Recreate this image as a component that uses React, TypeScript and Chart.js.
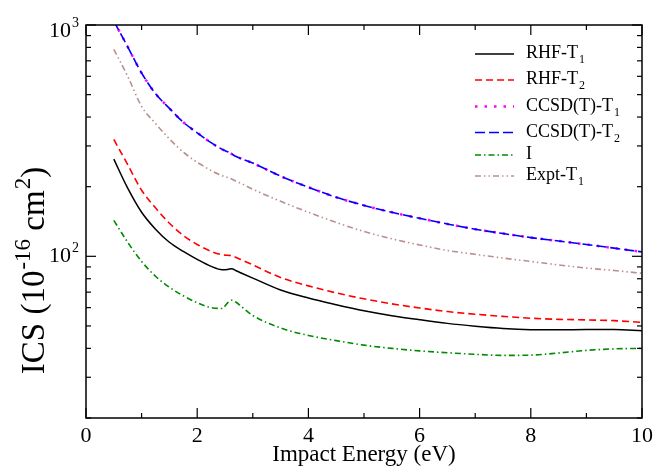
import React, { useEffect, useRef } from 'react';
import { Chart, registerables } from 'chart.js';
Chart.register(...registerables);

const energies = [0.5, 0.75, 1.0, 1.25, 1.5, 1.75, 2.0, 2.25, 2.45, 2.55, 2.62, 2.7, 2.8, 3.0, 3.5, 4, 4.5, 5, 5.5, 6, 6.5, 7, 7.5, 8, 8.5, 9, 9.5, 10];
const rhfT1 = [263, 197, 155, 131, 115, 105, 97, 90.5, 87.5, 87.8, 88.4, 86.6, 84.5, 80.5, 71.5, 66, 61.8, 58.2, 55.4, 53.2, 51.3, 49.9, 48.8, 48.2, 48.1, 48.3, 48.3, 47.7];
const rhfT2 = [320, 249, 193, 162, 139, 123, 112.5, 105, 101.5, 101, 100.8, 98.8, 96.5, 91.8, 81, 74.5, 69.5, 65.5, 62.3, 59.8, 57.7, 56.2, 55, 54, 53.4, 53.1, 52.7, 51.8];
const ccsdT1 = [1040, 805, 620, 505, 436, 380, 342, 310, 290, 283, 277, 270, 264, 253, 222, 199, 180, 166, 155, 146, 138, 131, 125.5, 120.5, 116.5, 112.5, 108.5, 104.5];
const ccsdT2 = [1040, 805, 620, 505, 436, 380, 342, 310, 290, 283, 277, 270, 264, 253, 222, 199, 180, 166, 155, 146, 138, 131, 125.5, 120.5, 116.5, 112.5, 108.5, 104.5];
const seriesI = [143, 115, 95, 82, 73.5, 67.5, 63, 60, 59.5, 63, 64.6, 63.3, 60.5, 55.5, 49, 45.5, 43.2, 41.3, 40, 39, 38.3, 37.7, 37.3, 37.4, 38.2, 39.2, 39.8, 40];
const exptT1 = [785, 600, 445, 375, 322, 282, 255, 235, 223, 219, 216, 211, 206, 195, 173, 155, 140, 128, 119, 112, 106, 102, 98.3, 95, 91.8, 89, 86.8, 84.5];

const xMajorTicks = [0, 2, 4, 6, 8, 10];
const xMinorTicks = [1, 3, 5, 7, 9];
const yMajorTicks = [100, 1000];
const yMinorTicks = [20, 30, 40, 50, 60, 70, 80, 90, 200, 300, 400, 500, 600, 700, 800, 900];
const yTickBase = ['10', '10'];
const yTickExp = ['2', '3'];

const legendNames = ['RHF-T', 'RHF-T', 'CCSD(T)-T', 'CCSD(T)-T', 'I', 'Expt-T'];
const legendSubs = ['1', '2', '1', '2', '', '1'];

const FONT = '"Liberation Serif", "Times New Roman", serif';

const seriesStyles = [
  { color: '#000000', dash: [] as number[], width: 1.5 },
  { color: '#ff0000', dash: [7, 4], width: 1.6 },
  { color: '#ff00ff', dash: [2.5, 7], width: 2.5 },
  { color: '#0000ff', dash: [10, 4], width: 1.6 },
  { color: '#008b00', dash: [6, 3, 1.5, 3], width: 1.6 },
  { color: '#bc8f8f', dash: [6, 3, 1.5, 3, 1.5, 3], width: 1.6 },
];

const seriesData = [rhfT1, rhfT2, ccsdT1, ccsdT2, seriesI, exptT1];

function drawSup(ctx: CanvasRenderingContext2D, x: number, y: number, base: string, sup: string, size: number, supMode: 'sup' | 'sub', align: 'left' | 'right') {
  ctx.font = `${size}px ${FONT}`;
  const wb = ctx.measureText(base).width;
  const supSize = Math.round(size * 0.65);
  ctx.font = `${supSize}px ${FONT}`;
  const ws = ctx.measureText(sup).width;
  const x0 = align === 'left' ? x : x - wb - ws;
  ctx.textAlign = 'left';
  ctx.textBaseline = 'alphabetic';
  ctx.font = `${size}px ${FONT}`;
  ctx.fillText(base, x0, y);
  ctx.font = `${supSize}px ${FONT}`;
  const dy = supMode === 'sup' ? -size * 0.45 : size * 0.3;
  ctx.fillText(sup, x0 + wb + 1, y + dy);
}

const framePlugin = {
  id: 'framePlugin',
  afterDraw(chart: any) {
    const ctx: CanvasRenderingContext2D = chart.ctx;
    const { left, top, right, bottom } = chart.chartArea;
    const xs = chart.scales.x;
    const ys = chart.scales.y;
    ctx.save();
    ctx.strokeStyle = '#000';
    ctx.fillStyle = '#000';
    ctx.lineWidth = 1.5;
    ctx.strokeRect(left, top, right - left, bottom - top);
    ctx.lineWidth = 1.2;
    const tick = (x1: number, y1: number, x2: number, y2: number) => {
      ctx.beginPath(); ctx.moveTo(x1, y1); ctx.lineTo(x2, y2); ctx.stroke();
    };
    xMajorTicks.forEach((v) => { const p = xs.getPixelForValue(v); tick(p, bottom, p, bottom - 10); tick(p, top, p, top + 10); });
    xMinorTicks.forEach((v) => { const p = xs.getPixelForValue(v); tick(p, bottom, p, bottom - 5); tick(p, top, p, top + 5); });
    yMajorTicks.forEach((v) => { const p = ys.getPixelForValue(v); tick(left, p, left + 10, p); tick(right, p, right - 10, p); });
    yMinorTicks.forEach((v) => { const p = ys.getPixelForValue(v); tick(left, p, left + 5, p); tick(right, p, right - 5, p); });

    // x tick labels
    ctx.font = `22px ${FONT}`;
    ctx.textAlign = 'center';
    ctx.textBaseline = 'alphabetic';
    xMajorTicks.forEach((v) => { ctx.fillText(String(v), xs.getPixelForValue(v), bottom + 24); });

    // y tick labels
    const yDy = [6, 12];
    yMajorTicks.forEach((v, i) => {
      const p = ys.getPixelForValue(v);
      drawSup(ctx, left - 8, p + yDy[i], yTickBase[i], yTickExp[i], 22, 'sup', 'right');
    });

    // x title
    ctx.font = `23px ${FONT}`;
    ctx.textAlign = 'center';
    ctx.fillText('Impact Energy (eV)', (left + right) / 2, bottom + 43);

    // y title (rotated)
    ctx.save();
    ctx.translate(left - 42, (top + bottom) / 2 + 49);
    ctx.rotate(-Math.PI / 2);
    const parts: [string, 'n' | 's'][] = [['ICS (10', 'n'], ['-16', 's'], [' cm', 'n'], ['2', 's'], [')', 'n']];
    const big = 33, small = 23;
    let total = 0;
    parts.forEach(([t, m]) => { ctx.font = `${m === 'n' ? big : small}px ${FONT}`; total += ctx.measureText(t).width + (m === 's' ? 1 : 0); });
    let cx = -total / 2;
    ctx.textAlign = 'left';
    parts.forEach(([t, m]) => {
      ctx.font = `${m === 'n' ? big : small}px ${FONT}`;
      ctx.fillText(t, cx + (m === 's' ? 1 : 0), m === 's' ? -14 : 0);
      cx += ctx.measureText(t).width + (m === 's' ? 1 : 0);
    });
    ctx.restore();

    // legend
    const rowY = [29, 55, 81.5, 107.5, 130, 151];
    const lx1 = right - 167, lx2 = right - 128, tx = right - 116;
    legendNames.forEach((name, i) => {
      const st = seriesStyles[i];
      const y = top + rowY[i];
      ctx.save();
      ctx.strokeStyle = st.color;
      ctx.lineWidth = st.width;
      ctx.setLineDash(st.dash);
      ctx.beginPath(); ctx.moveTo(lx1, y); ctx.lineTo(lx2, y); ctx.stroke();
      ctx.restore();
      ctx.fillStyle = '#000';
      if (legendSubs[i]) {
        drawSup(ctx, tx, y + 4, name, legendSubs[i], 18, 'sub', 'left');
      } else {
        ctx.font = `18px ${FONT}`;
        ctx.textAlign = 'left';
        ctx.fillText(name, tx, y + 4);
      }
    });
    ctx.restore();
  },
};

export default function App() {
  const ref = useRef<HTMLCanvasElement | null>(null);
  useEffect(() => {
    if (!ref.current) return;
    const datasets = seriesData.map((arr, i) => ({
      label: legendNames[i] + legendSubs[i],
      data: energies.map((e, j) => ({ x: e, y: arr[j] })),
      borderColor: seriesStyles[i].color,
      borderWidth: seriesStyles[i].width,
      borderDash: seriesStyles[i].dash,
      pointRadius: 0,
      fill: false,
      tension: 0.4,
      cubicInterpolationMode: 'monotone' as const,
      order: i === 3 ? -1 : i,
    }));
    const chart = new Chart(ref.current, {
      type: 'line',
      data: { datasets },
      options: {
        animation: false,
        responsive: false,
        layout: { padding: { left: 86, top: 25, right: 14, bottom: 48 } },
        plugins: { legend: { display: false }, tooltip: { enabled: false } },
        scales: {
          x: { type: 'linear', min: 0, max: 10, display: false },
          y: { type: 'logarithmic', min: 20, max: 1000, display: false },
        },
      },
      plugins: [framePlugin],
    });
    return () => chart.destroy();
  }, []);
  return (
    <div style={{ position: 'fixed', left: 0, top: 0, width: 656, height: 466, background: '#fff' }}>
      <canvas ref={ref} width={656} height={466} style={{ width: 656, height: 466, display: 'block' }} />
    </div>
  );
}
